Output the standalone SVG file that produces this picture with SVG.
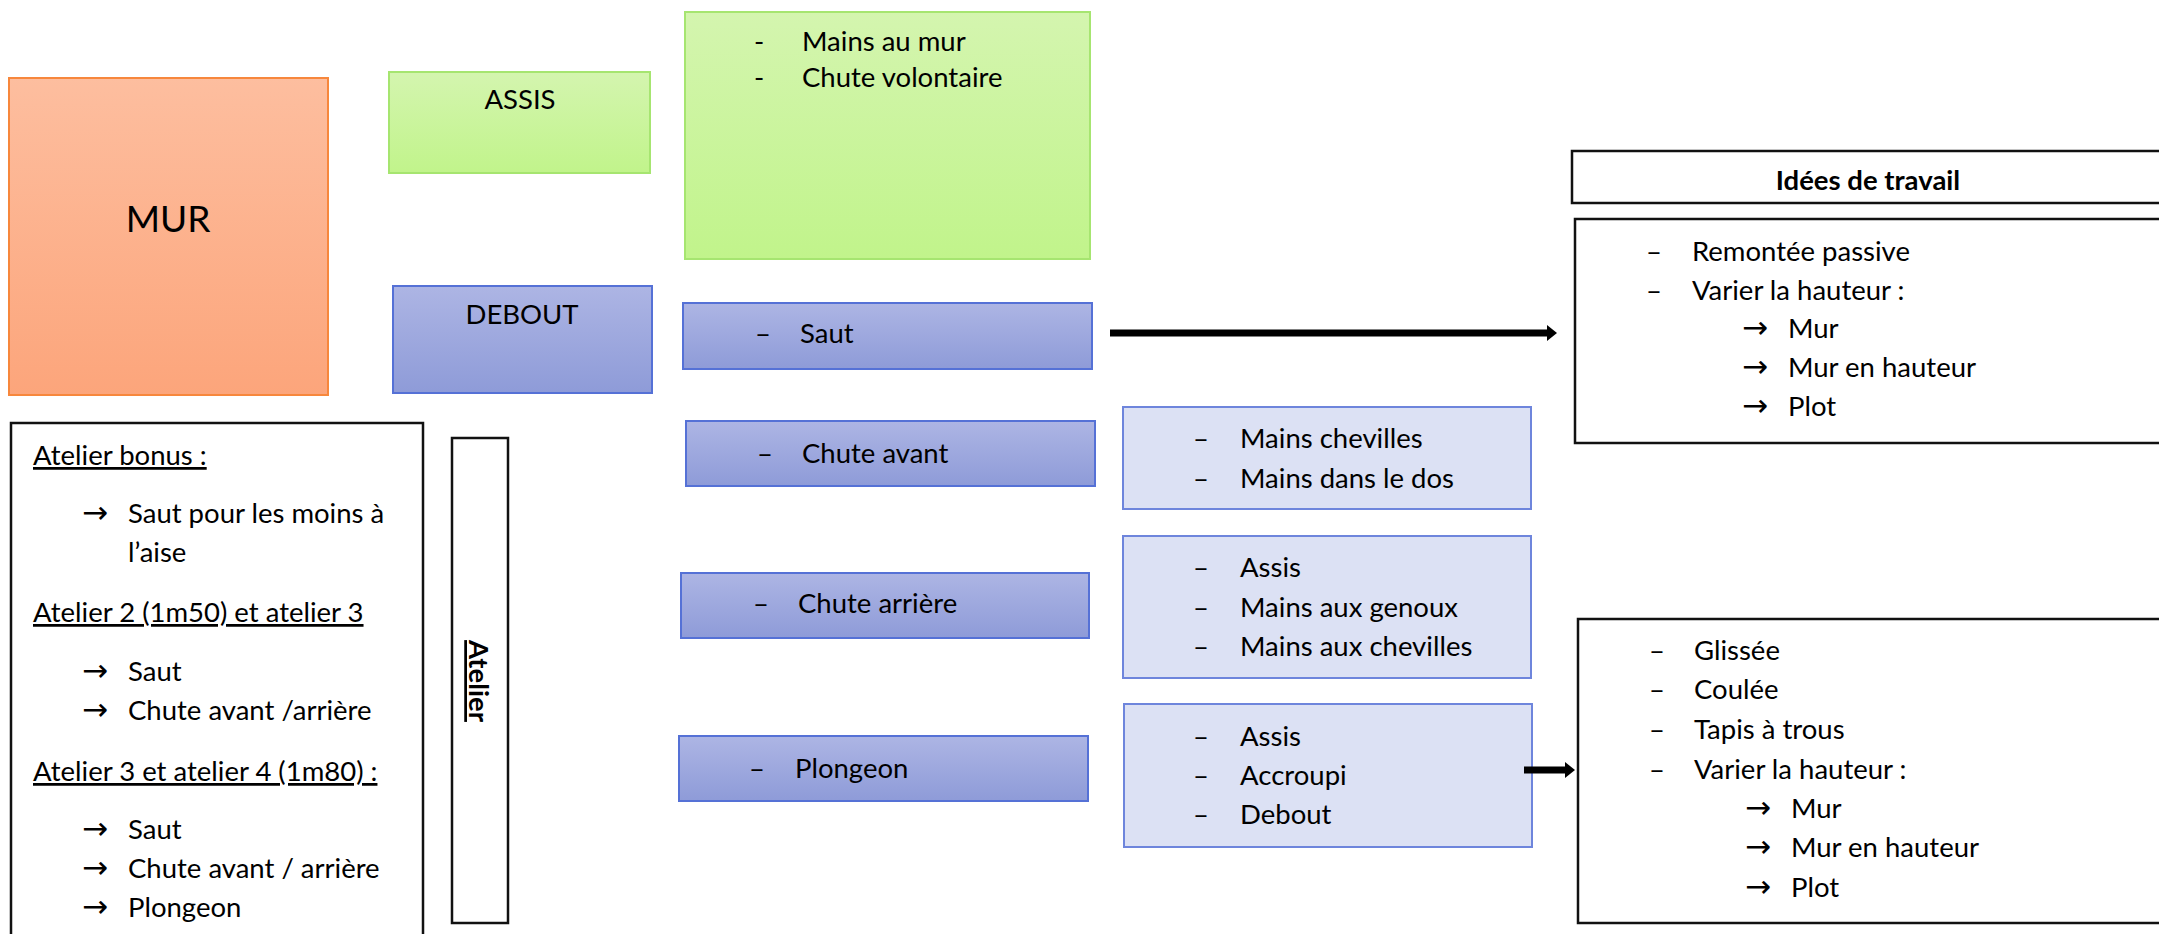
<svg xmlns="http://www.w3.org/2000/svg" width="2159" height="934" viewBox="0 0 2159 934">
<defs>
  <linearGradient id="gOrange" x1="0" y1="0" x2="0" y2="1">
    <stop offset="0" stop-color="#FDBE9F"/>
    <stop offset="1" stop-color="#FCA57B"/>
  </linearGradient>
  <linearGradient id="gGreen" x1="0" y1="0" x2="0" y2="1">
    <stop offset="0" stop-color="#D4F5AF"/>
    <stop offset="1" stop-color="#C1F48B"/>
  </linearGradient>
  <linearGradient id="gBlue" x1="0" y1="0" x2="0" y2="1">
    <stop offset="0" stop-color="#ADB5E4"/>
    <stop offset="1" stop-color="#8E9BD8"/>
  </linearGradient>
  <marker id="head" markerUnits="userSpaceOnUse" markerWidth="11" markerHeight="17" refX="0" refY="8" orient="auto">
    <path d="M0,0 L10,8 L0,16 z" fill="#000"/>
  </marker>
  <style>
    text { font-family: Lato, "Liberation Sans", sans-serif; font-size: 27.5px; fill: #000; }
    .arr { font-family: "DejaVu Sans", sans-serif; font-size: 31px; }
    .mid { text-anchor: middle; }
    .u { text-decoration: underline; }
    .b { font-weight: bold; }
    .orange { fill: url(#gOrange); stroke: #F7873C; stroke-width: 2; }
    .green { fill: url(#gGreen); stroke: #A6E570; stroke-width: 2; }
    .blue { fill: url(#gBlue); stroke: #5571D6; stroke-width: 2; }
    .light { fill: #DCE1F4; stroke: #6E85DC; stroke-width: 2; }
    .plain { fill: #FFFFFF; stroke: #111111; stroke-width: 2.5; }
    .conn { stroke: #000; stroke-width: 7; fill: none; }
  </style>
</defs>
<rect width="2159" height="934" fill="#FFFFFF"/>

<g id="mur">
  <rect class="orange" x="9" y="78" width="319" height="317"/>
  <text class="mid" x="168" y="232" style="font-size:37px">MUR</text>
</g>

<g id="assis">
  <rect class="green" x="389" y="72" width="261" height="101"/>
  <text class="mid" x="520" y="109">ASSIS</text>
</g>

<g id="debout">
  <rect class="blue" x="393" y="286" width="259" height="107"/>
  <text class="mid" x="522" y="324">DEBOUT</text>
</g>

<g id="assis-detail">
  <rect class="green" x="685" y="12" width="405" height="247"/>
  <text x="754" y="51">-</text><text x="802" y="51">Mains au mur</text>
  <text x="754" y="87">-</text><text x="802" y="87">Chute volontaire</text>
</g>

<g id="saut">
  <rect class="blue" x="683" y="303" width="409" height="66"/>
  <text x="755" y="343">–</text><text x="800" y="343">Saut</text>
</g>

<g id="chute-avant">
  <rect class="blue" x="686" y="421" width="409" height="65"/>
  <text x="757" y="463">–</text><text x="802" y="463">Chute avant</text>
</g>

<g id="chute-arriere">
  <rect class="blue" x="681" y="573" width="408" height="65"/>
  <text x="753" y="613">–</text><text x="798" y="613">Chute arrière</text>
</g>

<g id="plongeon">
  <rect class="blue" x="679" y="736" width="409" height="65"/>
  <text x="749" y="778">–</text><text x="795" y="778">Plongeon</text>
</g>

<g id="chute-avant-detail">
  <rect class="light" x="1123" y="407" width="408" height="102"/>
  <text x="1193" y="448">–</text><text x="1240" y="448">Mains chevilles</text>
  <text x="1193" y="488">–</text><text x="1240" y="488">Mains dans le dos</text>
</g>

<g id="chute-arriere-detail">
  <rect class="light" x="1123" y="536" width="408" height="142"/>
  <text x="1193" y="577">–</text><text x="1240" y="577">Assis</text>
  <text x="1193" y="617">–</text><text x="1240" y="617">Mains aux genoux</text>
  <text x="1193" y="656">–</text><text x="1240" y="656">Mains aux chevilles</text>
</g>

<g id="plongeon-detail">
  <rect class="light" x="1124" y="704" width="408" height="143"/>
  <text x="1193" y="746">–</text><text x="1240" y="746">Assis</text>
  <text x="1193" y="785">–</text><text x="1240" y="785">Accroupi</text>
  <text x="1193" y="824">–</text><text x="1240" y="824">Debout</text>
</g>

<g id="idees-titre">
  <rect class="plain" x="1572" y="151" width="600" height="52"/>
  <text class="mid b" x="1868" y="190">Idées de travail</text>
</g>

<g id="idees-saut">
  <rect class="plain" x="1575" y="219" width="600" height="224"/>
  <text x="1646" y="261">–</text><text x="1692" y="261">Remontée passive</text>
  <text x="1646" y="300">–</text><text x="1692" y="300">Varier la hauteur :</text>
  <text class="arr" x="1742" y="338">→</text><text x="1788" y="338">Mur</text>
  <text class="arr" x="1742" y="377">→</text><text x="1788" y="377">Mur en hauteur</text>
  <text class="arr" x="1742" y="416">→</text><text x="1788" y="416">Plot</text>
</g>

<g id="idees-plongeon">
  <rect class="plain" x="1578" y="619" width="600" height="304"/>
  <text x="1649" y="660">–</text><text x="1694" y="660">Glissée</text>
  <text x="1649" y="699">–</text><text x="1694" y="699">Coulée</text>
  <text x="1649" y="739">–</text><text x="1694" y="739">Tapis à trous</text>
  <text x="1649" y="779">–</text><text x="1694" y="779">Varier la hauteur :</text>
  <text class="arr" x="1745" y="818">→</text><text x="1791" y="818">Mur</text>
  <text class="arr" x="1745" y="857">→</text><text x="1791" y="857">Mur en hauteur</text>
  <text class="arr" x="1745" y="897">→</text><text x="1791" y="897">Plot</text>
</g>

<g id="ateliers">
  <rect class="plain" x="11" y="423" width="412" height="540"/>
  <text class="u" x="33" y="465">Atelier bonus :</text>
  <text class="arr" x="82" y="523">→</text><text x="128" y="523">Saut pour les moins à</text>
  <text x="128" y="562">l’aise</text>
  <text class="u" x="33" y="622">Atelier 2 (1m50) et atelier 3</text>
  <text class="arr" x="82" y="681">→</text><text x="128" y="681">Saut</text>
  <text class="arr" x="82" y="720">→</text><text x="128" y="720">Chute avant /arrière</text>
  <text class="u" x="33" y="781">Atelier 3 et atelier 4 (1m80) :</text>
  <text class="arr" x="82" y="839">→</text><text x="128" y="839">Saut</text>
  <text class="arr" x="82" y="878">→</text><text x="128" y="878">Chute avant / arrière</text>
  <text class="arr" x="82" y="917">→</text><text x="128" y="917">Plongeon</text>
</g>

<g id="atelier-label">
  <rect class="plain" x="452" y="438" width="56" height="485"/>
  <text class="mid b u" transform="translate(469,681) rotate(90)" x="0" y="0">Atelier</text>
</g>

<g id="connectors">
  <line class="conn" x1="1110" y1="333" x2="1547" y2="333" marker-end="url(#head)"/>
  <line class="conn" x1="1524" y1="770" x2="1565" y2="770" marker-end="url(#head)"/>
</g>
</svg>
